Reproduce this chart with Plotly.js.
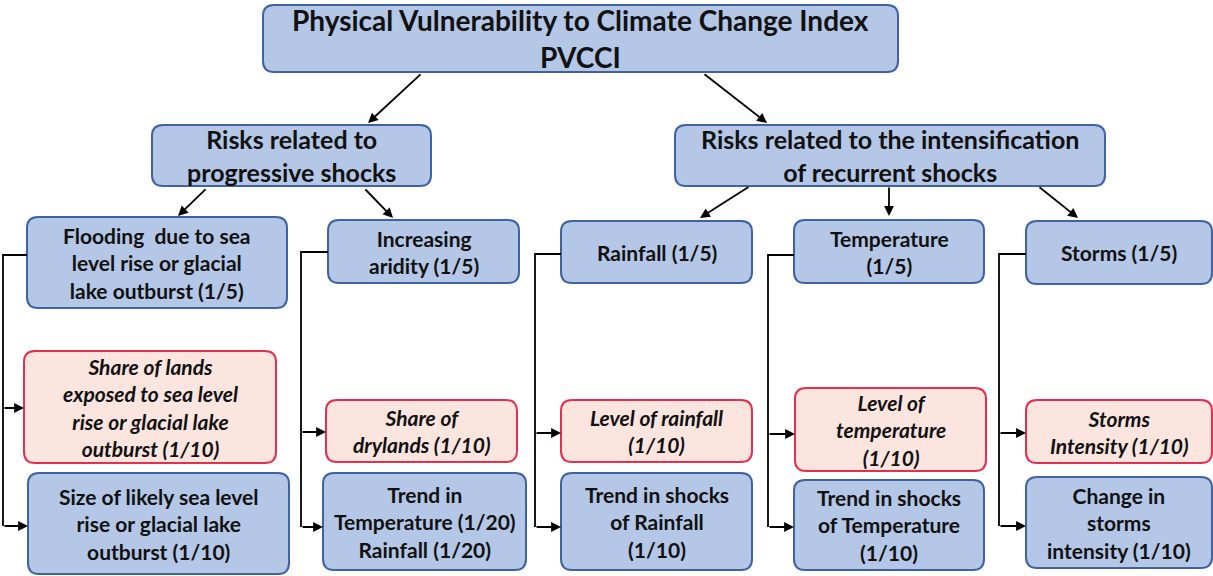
<!DOCTYPE html>
<html><head><meta charset="utf-8">
<script src="https://cdn.plot.ly/plotly-3.0.1.min.js"></script>
<style>html,body{margin:0;padding:0;background:#fff}</style>
</head><body>
<div id="chart" style="width:1213px;height:576px"></div>
<script>
// ---- content ----
const titleLines = ["Physical Vulnerability to Climate Change Index", "PVCCI"];
const groupLabels = ["Risks related to<br>progressive shocks", "Risks related to the intensification<br>of recurrent shocks"];
const componentLabels = [
  "Flooding  due to sea<br>level rise or glacial<br>lake outburst (1/5)",
  "Increasing<br>aridity (1/5)",
  "Rainfall (1/5)",
  "Temperature<br>(1/5)",
  "Storms (1/5)"
];
const levelLabels = [
  "Share of lands<br>exposed to sea level<br>rise or glacial lake<br>outburst (1/10)",
  "Share of<br>drylands (1/10)",
  "Level of rainfall<br>(1/10)",
  "Level of<br>temperature<br>(1/10)",
  "Storms<br>Intensity (1/10)"
];
const trendLabels = [
  "Size of likely sea level<br>rise or glacial lake<br>outburst (1/10)",
  "Trend in<br>Temperature (1/20)<br>Rainfall (1/20)",
  "Trend in shocks<br>of Rainfall<br>(1/10)",
  "Trend in shocks<br>of Temperature<br>(1/10)",
  "Change in<br>storms<br>intensity (1/10)"
];

// ---- geometry (diagram layout) ----
const titleBox = [263, 5, 898, 72];
const groupBoxes = [[152, 125, 431, 186], [675, 125, 1105, 186]];
const componentBoxes = [[27, 217, 287, 308], [328, 220, 519, 283], [561, 221, 752, 283], [794, 220, 984, 283], [1026, 221, 1212, 284]];
const levelBoxes = [[24, 351, 276, 463], [326, 400, 517, 462], [561, 400, 752, 462], [795, 388, 986, 471], [1026, 400, 1212, 463]];
const trendBoxes = [[28, 473, 289, 574], [323, 473, 526, 570], [561, 473, 752, 570], [794, 480, 984, 570], [1026, 477, 1212, 568]];
// connector: [boxLeftX, topY, spineX, levelArrowY, trendArrowY]
const brackets = [[27, 255, 3, 408, 526], [328, 252, 301, 432, 527], [561, 254, 535, 433, 527], [794, 255, 768, 434, 527], [1026, 254, 999, 433, 526]];
const diagArrows = [[422, 73, 368, 123], [703, 73, 767, 123], [207, 188, 178, 216], [364, 188, 393, 218], [750, 186, 700, 218], [889, 186, 889, 216], [1038, 186, 1078, 218]];

const BLUE = "#B4C7E7", BLUE_LINE = "#3F62A0", RED = "#FCE4DF", RED_LINE = "#E2304F";
const FONT = "Lato, 'Open Sans', sans-serif";

function rr(b, r) {
  const [x0, y0, x1, y1] = b;
  return `M ${x0 + r},${y0} L ${x1 - r},${y0} Q ${x1},${y0} ${x1},${y0 + r} L ${x1},${y1 - r} Q ${x1},${y1} ${x1 - r},${y1} L ${x0 + r},${y1} Q ${x0},${y1} ${x0},${y1 - r} L ${x0},${y0 + r} Q ${x0},${y0} ${x0 + r},${y0} Z`;
}
const shapes = [];
const annotations = [];
function box(b, fill, line) {
  shapes.push({type: "path", xref: "x", yref: "y", path: rr(b, 11), fillcolor: fill, line: {color: line, width: 2}, layer: "below"});
}
function label(b, text, size, italic) {
  annotations.push({xref: "x", yref: "y", x: (b[0] + b[2]) / 2, y: (b[1] + b[3]) / 2, text: italic ? "<b><i>" + text + "</i></b>" : "<b>" + text + "</b>",
    showarrow: false, font: {family: FONT, size: size, color: "#111"}, xanchor: "center", yanchor: "middle", align: "center"});
}
function arrow(x0, y0, x1, y1) {
  annotations.push({xref: "x", yref: "y", axref: "x", ayref: "y", x: x1, y: y1, ax: x0, ay: y0, text: "", showarrow: true,
    arrowhead: 2, arrowsize: 1.1, arrowwidth: 1.8, arrowcolor: "#000", standoff: 0, startstandoff: 0});
}

box(titleBox, BLUE, BLUE_LINE);
annotations.push({xref: "x", yref: "y", x: (titleBox[0] + titleBox[2]) / 2, y: 20, text: "<b>" + titleLines[0] + "</b>", showarrow: false, font: {family: FONT, size: 28, color: "#111"}});
annotations.push({xref: "x", yref: "y", x: (titleBox[0] + titleBox[2]) / 2, y: 57, text: "<b>" + titleLines[1] + "</b>", showarrow: false, font: {family: FONT, size: 28, color: "#111"}});

groupBoxes.forEach((b, i) => { box(b, BLUE, BLUE_LINE); label(b, groupLabels[i], 25, false); });
componentBoxes.forEach((b, i) => { box(b, BLUE, BLUE_LINE); label(b, componentLabels[i], 21, false); });
levelBoxes.forEach((b, i) => { box(b, RED, RED_LINE); label(b, levelLabels[i], 21, true); });
trendBoxes.forEach((b, i) => { box(b, BLUE, BLUE_LINE); label(b, trendLabels[i], 21, false); });

brackets.forEach((c, i) => {
  const [bx, ty, sx, ly, tyy] = c;
  shapes.push({type: "path", xref: "x", yref: "y", path: `M ${bx},${ty} L ${sx},${ty} L ${sx},${tyy}`, line: {color: "#000", width: 1.8}});
  arrow(sx, ly, levelBoxes[i][0], ly);
  arrow(sx, tyy, trendBoxes[i][0], tyy);
});
diagArrows.forEach(a => arrow(a[0], a[1], a[2], a[3]));

const layout = {
  width: 1213, height: 576,
  margin: {l: 0, r: 0, t: 0, b: 0},
  paper_bgcolor: "#fff", plot_bgcolor: "#fff",
  xaxis: {range: [0, 1213], visible: false, fixedrange: true},
  yaxis: {range: [576, 0], visible: false, fixedrange: true},
  showlegend: false,
  shapes: shapes, annotations: annotations
};
Plotly.newPlot("chart", [], layout, {displayModeBar: false, staticPlot: true});
</script>
</body></html>
